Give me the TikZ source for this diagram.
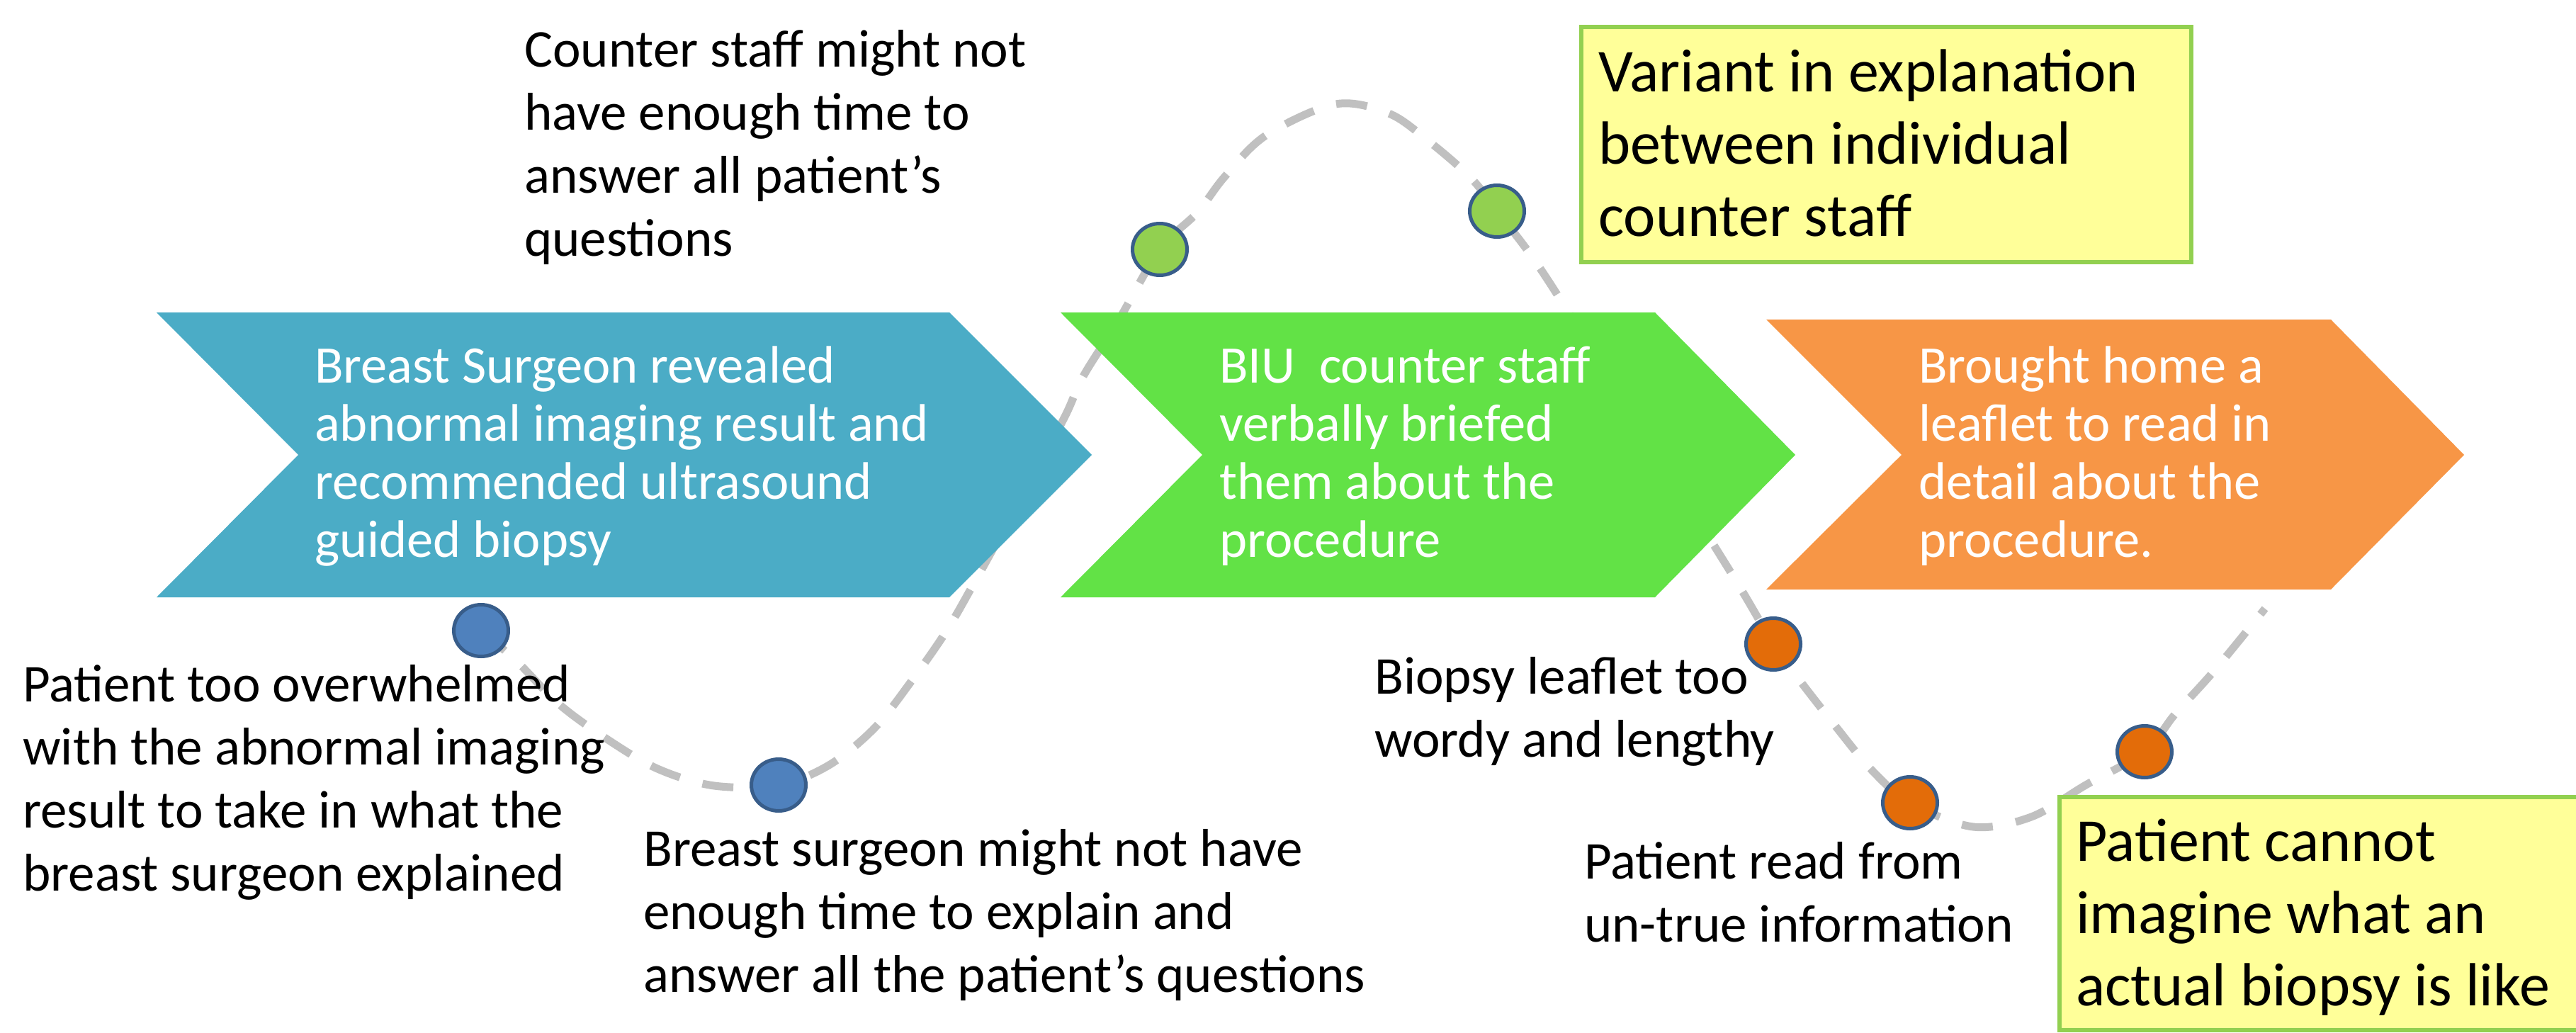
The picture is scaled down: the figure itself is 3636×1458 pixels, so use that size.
\documentclass[tikz,border=0pt]{standalone}
\usepackage{fontspec}
\setmainfont{Carlito}
\usetikzlibrary{shapes.geometric}
\definecolor{blueArrow}{HTML}{4BACC6}
\definecolor{greenArrow}{HTML}{62E246}
\definecolor{orangeArrow}{HTML}{F79646}
\definecolor{dotBlue}{HTML}{4F81BD}
\definecolor{dotGreen}{HTML}{92D050}
\definecolor{dotOrange}{HTML}{E36C09}
\definecolor{dotEdge}{HTML}{385D8A}
\definecolor{noteFill}{HTML}{FFFF99}
\definecolor{noteEdge}{HTML}{92D050}
\definecolor{curveGray}{HTML}{C0C0C0}
\begin{document}
\begin{tikzpicture}[x=1pt,y=-1pt,
  annot/.style={anchor=base west, inner sep=0pt, align=left, font=\fontsize{75}{89}\selectfont, text=black},
  arrowtext/.style={anchor=base west, inner sep=0pt, align=left, font=\fontsize{74.5}{82}\selectfont, text=white},
  notetext/.style={anchor=base west, inner sep=0pt, align=left, font=\fontsize{86}{102}\selectfont, text=black},
  notebox/.style={fill=noteFill, draw=noteEdge, line width=6pt},
  dotmark/.style={ellipse, minimum width=77pt, minimum height=73pt, inner sep=0pt, draw=dotEdge, line width=5pt},
  pathline/.style={draw=curveGray, line width=11pt, dash pattern=on 44pt off 33pt}
]
\useasboundingbox (0,0) rectangle (3636,1458);
\fill[white] (0,0) rectangle (3636,1458);

% dot positions
\coordinate (b1) at (679,890);
\coordinate (b2) at (1099,1108);
\coordinate (g1) at (1637,352);
\coordinate (g2) at (2113,298);
\coordinate (o1) at (2503,909);
\coordinate (o2) at (2696,1133);
\coordinate (o3) at (3027,1061);

% dashed wave
\draw[pathline] plot[smooth, tension=0.55] coordinates {
  (b1) (730,934) (788,993) (855,1042) (928,1085) (1008,1109) (b2)
  (1170,1080) (1234,1028) (1286,962) (1335,892) (1376,821) (1440,705)
  (1502,590) (1529,531) (1580,450) (g1) (1690,300) (1729,249) (1787,191)
  (1885,147) (1960,160) (2015,198) (2075,250) (g2) (2180,388) (2314,602)
  (2448,816) (o1) (2540,960) (2590,1024) (2642,1087) (o2) (2785,1167)
  (2867,1153) (2944,1108) (o3) (3070,1008) (3126,946) (3197,859)};

% chevrons
\fill[blueArrow] (221,441) -- (1340,441) -- (1541,642) -- (1340,843) -- (221,843) -- (421,642) -- cycle;
\fill[greenArrow] (1497,441) -- (2336,441) -- (2534,642) -- (2336,843) -- (1497,843) -- (1697,642) -- cycle;
\fill[orangeArrow] (2493,451) -- (3290,451) -- (3478,642) -- (3290,832) -- (2493,832) -- (2684,642) -- cycle;

% (base anchor = baseline of the last line)
\node[arrowtext] (t1) at (444,786) {Breast Surgeon revealed\\abnormal imaging result and\\recommended ultrasound\\guided biopsy};
\node[arrowtext] (t2) at (1721,786) {BIU\ \ counter staff\\verbally briefed\\them about the\\procedure};
\node[arrowtext] (t3) at (2708,786) {Brought home a\\leaflet to read in\\detail about the\\procedure.};

% dots
\node[dotmark, fill=dotBlue] (d1) at (b1) {};
\node[dotmark, fill=dotBlue] (d2) at (b2) {};
\node[dotmark, fill=dotGreen] (d3) at (g1) {};
\node[dotmark, fill=dotGreen] (d4) at (g2) {};
\node[dotmark, fill=dotOrange] (d5) at (o1) {};
\node[dotmark, fill=dotOrange] (d6) at (o2) {};
\node[dotmark, fill=dotOrange] (d7) at (o3) {};

% notes
\draw[notebox] (2232,38) rectangle (3093,370);
\node[notetext] (n1) at (2256,333) {Variant in explanation\\between individual\\counter staff};
\draw[notebox] (2907,1125) rectangle (3670,1454);
\node[notetext] (n2) at (2930,1419) {Patient cannot\\imagine what an\\actual biopsy is like};

% annotations
\node[annot] (a1) at (740,361) {Counter staff might not\\have enough time to\\answer all patient’s\\questions};
\node[annot] (a2) at (32,1257) {Patient too overwhelmed\\with the abnormal imaging\\result to take in what the\\breast surgeon explained};
\node[annot] (a3) at (908,1400) {Breast surgeon might not have\\enough time to explain and\\answer all the patient’s questions};
\node[annot] (a4) at (1940,1068) {Biopsy leaflet too\\wordy and lengthy};
\node[annot] (a5) at (2236,1329) {Patient read from\\un-true information};
\end{tikzpicture}
\end{document}
